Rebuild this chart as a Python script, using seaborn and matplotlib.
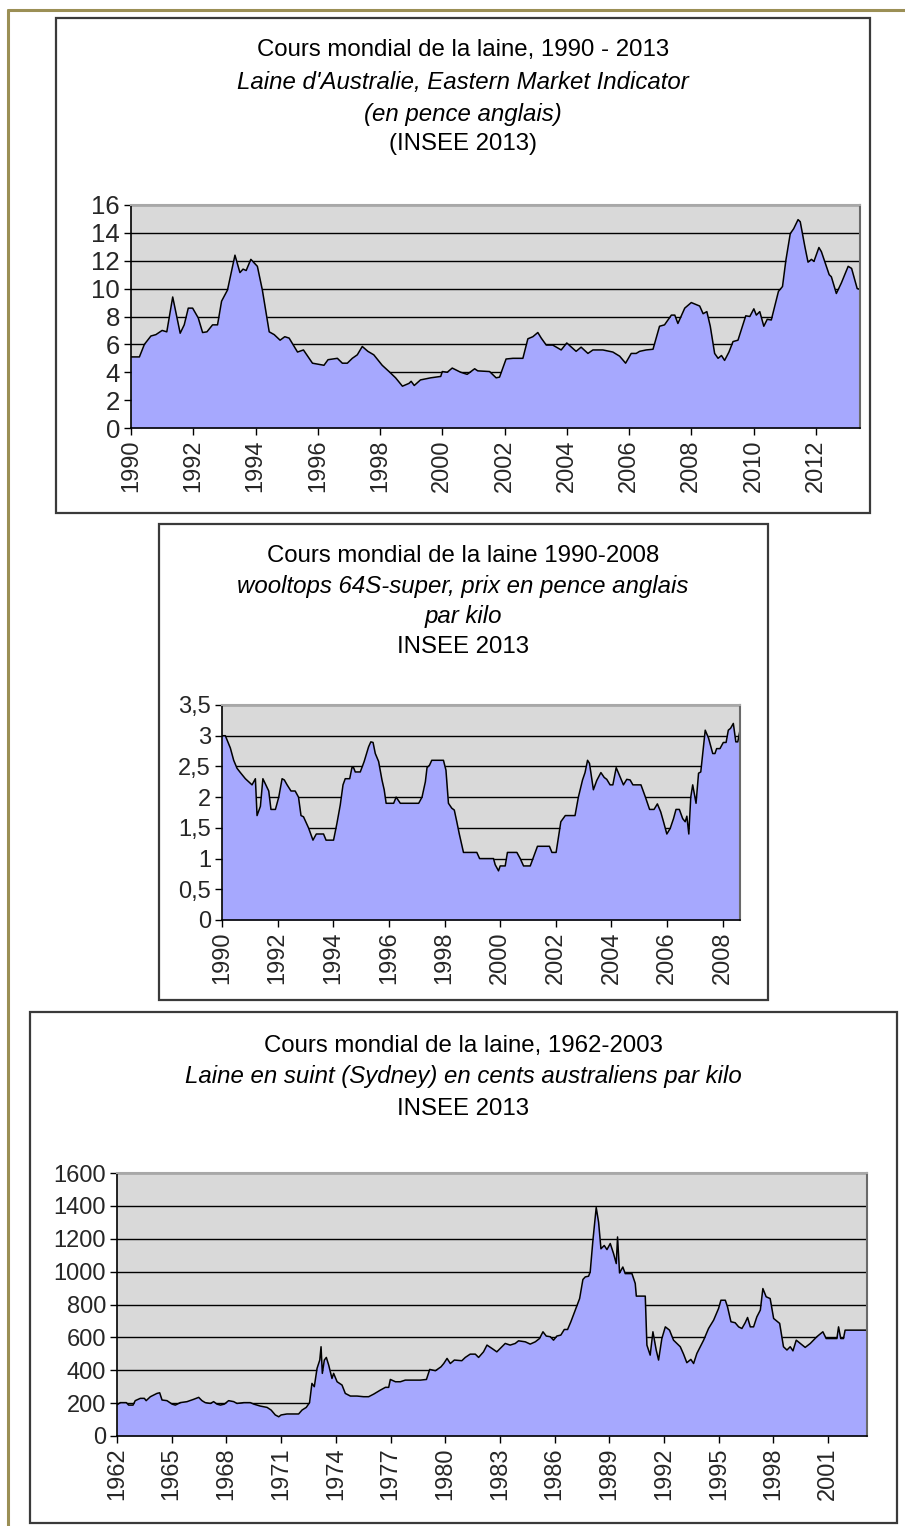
import numpy as np
import pandas as pd
import matplotlib
matplotlib.use("Agg")
import matplotlib.pyplot as plt
from matplotlib.patches import Rectangle
from matplotlib.lines import Line2D
import seaborn as sns

# === data ===

# chart 1: Eastern Market Indicator, pence
emi_years = [1990.0, 1990.27, 1990.43, 1990.64, 1990.8, 1991.0, 1991.15, 1991.34, 1991.58, 1991.71,
             1991.84, 1991.98, 1992.16, 1992.3, 1992.44, 1992.62, 1992.78, 1992.91, 1993.1, 1993.34,
             1993.5, 1993.6, 1993.7, 1993.85, 1994.06, 1994.22, 1994.44, 1994.6, 1994.79, 1994.94,
             1995.08, 1995.35, 1995.54, 1995.83, 1996.2, 1996.33, 1996.63, 1996.79, 1996.95, 1997.11,
             1997.27, 1997.43, 1997.61, 1997.8, 1998.07, 1998.29, 1998.5, 1998.72, 1998.93, 1999.0,
             1999.1, 1999.3, 1999.63, 1999.8, 1999.95, 2000.0, 2000.16, 2000.32, 2000.59, 2000.8,
             2001.04, 2001.14, 2001.52, 2001.73, 2001.84, 2002.05, 2002.27, 2002.59, 2002.75, 2002.91,
             2003.07, 2003.18, 2003.34, 2003.55, 2003.82, 2004.0, 2004.3, 2004.46, 2004.68, 2004.84,
             2005.16, 2005.48, 2005.7, 2005.89, 2006.07, 2006.23, 2006.34, 2006.55, 2006.77, 2006.86,
             2006.98, 2007.14, 2007.36, 2007.47, 2007.57, 2007.79, 2008.0, 2008.27, 2008.38, 2008.5,
             2008.61, 2008.75, 2008.86, 2008.97, 2009.07, 2009.21, 2009.34, 2009.5, 2009.75, 2009.88,
             2010.01, 2010.09, 2010.2, 2010.33, 2010.44, 2010.57, 2010.8, 2010.93, 2011.04, 2011.18,
             2011.29, 2011.43, 2011.5, 2011.65, 2011.75, 2011.86, 2011.94, 2012.1, 2012.18, 2012.43,
             2012.5, 2012.66, 2012.82, 2013.04, 2013.15, 2013.33, 2013.42]
emi_values = [5.1, 5.1, 6.0, 6.6, 6.7, 7.0, 6.9, 9.4, 6.8, 7.4,
              8.6, 8.6, 7.9, 6.85, 6.9, 7.4, 7.4, 9.1, 9.9, 12.4,
              11.15, 11.4, 11.3, 12.1, 11.6, 9.9, 6.9, 6.7, 6.3, 6.55,
              6.45, 5.45, 5.6, 4.65, 4.5, 4.9, 5.0, 4.65, 4.65, 5.0,
              5.25, 5.85, 5.5, 5.25, 4.5, 4.05, 3.6, 3.0, 3.2, 3.35,
              3.05, 3.45, 3.6, 3.65, 3.7, 4.05, 4.0, 4.3, 4.0, 3.85,
              4.25, 4.1, 4.05, 3.6, 3.65, 4.95, 5.0, 5.0, 6.4, 6.55,
              6.85, 6.45, 5.95, 5.95, 5.6, 6.1, 5.5, 5.8, 5.35, 5.6,
              5.6, 5.45, 5.15, 4.65, 5.35, 5.35, 5.5, 5.6, 5.65, 6.35,
              7.3, 7.4, 8.1, 8.1, 7.5, 8.6, 9.0, 8.75, 8.2, 8.35,
              7.3, 5.35, 5.0, 5.2, 4.85, 5.45, 6.2, 6.3, 8.05, 8.0,
              8.55, 8.1, 8.35, 7.3, 7.8, 7.75, 9.8, 10.15, 12.05, 13.95,
              14.3, 14.95, 14.8, 13.0, 11.9, 12.1, 11.95, 12.95, 12.65, 11.0,
              10.85, 9.65, 10.4, 11.6, 11.45, 10.0, 9.95]

# chart 2: wooltops 64S-super, pence per kilo
tops_years = [1990.0, 1990.12, 1990.3, 1990.42, 1990.54, 1990.66, 1990.84, 1990.96, 1991.08, 1991.2,
              1991.26, 1991.38, 1991.47, 1991.68, 1991.76, 1991.92, 1992.04, 1992.16, 1992.24, 1992.34,
              1992.48, 1992.63, 1992.75, 1992.84, 1992.93, 1993.11, 1993.27, 1993.39, 1993.65, 1993.74,
              1994.01, 1994.13, 1994.25, 1994.35, 1994.43, 1994.59, 1994.67, 1994.73, 1994.79, 1994.97,
              1995.11, 1995.27, 1995.35, 1995.43, 1995.51, 1995.63, 1995.75, 1995.83, 1995.9, 1996.17,
              1996.26, 1996.41, 1997.07, 1997.19, 1997.31, 1997.37, 1997.46, 1997.54, 1997.96, 1998.05,
              1998.14, 1998.26, 1998.35, 1998.44, 1998.53, 1998.68, 1999.16, 1999.26, 1999.76, 1999.82,
              1999.94, 2000.0, 2000.18, 2000.26, 2000.6, 2000.72, 2000.84, 2001.08, 2001.34, 2001.77,
              2001.86, 2002.01, 2002.18, 2002.34, 2002.69, 2002.81, 2002.96, 2003.05, 2003.14, 2003.21,
              2003.35, 2003.47, 2003.62, 2003.74, 2003.83, 2003.95, 2004.05, 2004.17, 2004.31, 2004.43,
              2004.55, 2004.67, 2004.77, 2005.06, 2005.22, 2005.37, 2005.53, 2005.65, 2005.77, 2005.87,
              2005.99, 2006.11, 2006.23, 2006.32, 2006.44, 2006.56, 2006.65, 2006.71, 2006.78, 2006.85,
              2006.92, 2007.04, 2007.13, 2007.21, 2007.37, 2007.49, 2007.64, 2007.72, 2007.78, 2007.9,
              2008.02, 2008.12, 2008.2, 2008.28, 2008.38, 2008.47, 2008.54, 2008.62]
tops_values = [3.0, 3.0, 2.8, 2.6, 2.47, 2.4, 2.3, 2.25, 2.2, 2.3,
               1.7, 1.85, 2.3, 2.1, 1.8, 1.8, 2.0, 2.3, 2.28, 2.2,
               2.1, 2.1, 2.0, 1.7, 1.68, 1.5, 1.3, 1.4, 1.4, 1.3,
               1.3, 1.57, 1.87, 2.2, 2.3, 2.3, 2.48, 2.48, 2.41, 2.41,
               2.58, 2.82, 2.9, 2.89, 2.71, 2.58, 2.28, 2.12, 1.9, 1.9,
               2.0, 1.9, 1.9, 2.0, 2.25, 2.48, 2.52, 2.6, 2.6, 2.44,
               1.9, 1.82, 1.79, 1.6, 1.4, 1.1, 1.1, 1.0, 1.0, 0.9,
               0.8, 0.88, 0.88, 1.1, 1.1, 1.0, 0.88, 0.88, 1.2, 1.2,
               1.1, 1.1, 1.6, 1.7, 1.7, 2.0, 2.28, 2.4, 2.6, 2.55,
               2.12, 2.27, 2.4, 2.32, 2.29, 2.2, 2.2, 2.48, 2.33, 2.2,
               2.29, 2.28, 2.2, 2.2, 2.0, 1.8, 1.8, 1.89, 1.76, 1.6,
               1.4, 1.49, 1.65, 1.8, 1.8, 1.65, 1.6, 1.69, 1.4, 2.0,
               2.2, 1.9, 2.39, 2.41, 3.09, 2.96, 2.71, 2.71, 2.79, 2.79,
               2.89, 2.89, 3.09, 3.12, 3.2, 2.9, 2.9, 3.09]

# chart 3: greasy wool (Sydney), Australian cents per kilo
syd_years = [1962.0, 1962.18, 1962.51, 1962.64, 1962.88, 1963.0, 1963.28, 1963.5, 1963.6, 1963.83,
             1964.01, 1964.19, 1964.34, 1964.47, 1964.74, 1965.02, 1965.2, 1965.47, 1965.84, 1966.2,
             1966.48, 1966.66, 1966.84, 1967.12, 1967.3, 1967.48, 1967.67, 1967.89, 1968.12, 1968.4,
             1968.58, 1968.95, 1969.31, 1969.5, 1969.86, 1970.23, 1970.45, 1970.68, 1970.87, 1971.0,
             1971.32, 1971.96, 1972.15, 1972.38, 1972.56, 1972.69, 1972.82, 1972.97, 1973.12, 1973.19,
             1973.26, 1973.37, 1973.48, 1973.61, 1973.79, 1973.88, 1974.07, 1974.34, 1974.52, 1974.8,
             1975.16, 1975.53, 1975.8, 1976.08, 1976.44, 1976.72, 1976.9, 1976.99, 1977.27, 1977.54,
             1977.81, 1978.18, 1978.64, 1978.97, 1979.15, 1979.46, 1979.77, 1979.92, 1980.1, 1980.28,
             1980.5, 1980.91, 1981.1, 1981.37, 1981.65, 1981.83, 1982.1, 1982.29, 1982.56, 1982.83,
             1983.11, 1983.29, 1983.56, 1983.84, 1984.02, 1984.39, 1984.66, 1984.94, 1985.17, 1985.36,
             1985.54, 1985.76, 1985.94, 1986.12, 1986.34, 1986.53, 1986.71, 1986.89, 1987.13, 1987.37,
             1987.55, 1987.68, 1987.86, 1987.95, 1988.1, 1988.28, 1988.41, 1988.54, 1988.72, 1988.87,
             1989.05, 1989.23, 1989.38, 1989.45, 1989.56, 1989.74, 1989.87, 1990.24, 1990.42, 1990.48,
             1990.97, 1991.06, 1991.24, 1991.39, 1991.57, 1991.7, 1991.88, 1992.07, 1992.3, 1992.52,
             1992.89, 1993.07, 1993.25, 1993.47, 1993.62, 1993.8, 1994.17, 1994.44, 1994.72, 1994.99,
             1995.12, 1995.36, 1995.48, 1995.67, 1995.9, 1996.09, 1996.27, 1996.45, 1996.58, 1996.73,
             1996.91, 1997.09, 1997.28, 1997.42, 1997.6, 1997.82, 1998.01, 1998.34, 1998.55, 1998.74,
             1998.92, 1999.07, 1999.25, 1999.47, 1999.74, 2000.02, 2000.38, 2000.71, 2000.89, 2001.48,
             2001.57, 2001.69, 2001.84, 2001.93, 2003.13]
syd_values = [190, 203, 203, 188, 188, 215, 229, 229, 215, 239,
              249, 259, 263, 219, 215, 194, 188, 203, 209, 223,
              235, 215, 203, 198, 209, 194, 188, 194, 215, 209,
              198, 203, 203, 194, 182, 174, 158, 128, 117, 128,
              134, 134, 158, 174, 203, 320, 300, 411, 462, 543,
              381, 462, 478, 431, 350, 381, 330, 310, 259, 243,
              243, 239, 239, 255, 279, 296, 296, 344, 330, 330,
              340, 340, 340, 344, 405, 397, 421, 441, 472, 441,
              462, 458, 478, 498, 498, 478, 512, 553, 533, 512,
              543, 563, 553, 563, 579, 573, 559, 573, 593, 634,
              608, 604, 583, 608, 614, 648, 648, 695, 766, 836,
              952, 968, 972, 998, 1191, 1390, 1301, 1139, 1159, 1134,
              1171, 1110, 1049, 1211, 992, 1028, 988, 988, 928, 851,
              851, 553, 492, 634, 523, 462, 593, 664, 644, 583,
              543, 498, 446, 466, 441, 502, 583, 654, 705, 776,
              826, 826, 786, 695, 689, 664, 654, 689, 721, 664,
              664, 725, 766, 897, 847, 836, 715, 685, 543, 523,
              543, 518, 583, 563, 539, 563, 604, 634, 593, 593,
              664, 593, 593, 644, 644]

titles_1 = ["Cours mondial de la laine, 1990 - 2013",
            "Laine d'Australie, Eastern Market Indicator",
            "(en pence anglais)",
            "(INSEE 2013)"]
titles_2 = ["Cours mondial de la laine 1990-2008",
            "wooltops 64S-super, prix en pence anglais",
            "par kilo",
            "INSEE 2013"]
titles_3 = ["Cours mondial de la laine, 1962-2003",
            "Laine en suint (Sydney) en cents australiens par kilo",
            "INSEE 2013"]

# === figure setup ===
W, H = 905, 1526
sns.set_theme(style="white")
plt.rcParams["font.family"] = ["Liberation Sans", "DejaVu Sans"]

FILL = "#a6a8fe"
BG = "#d9d9d9"

fig = plt.figure(figsize=(W / 100, H / 100), dpi=100)
fig.patch.set_facecolor("white")


def px_rect(l, t, r, b):
    return [l / W, 1 - b / H, (r - l) / W, (b - t) / H]


def box(l, t, r, b):
    fig.patches.append(Rectangle((l / W, 1 - b / H), (r - l) / W, (b - t) / H,
                                 transform=fig.transFigure, fill=False,
                                 edgecolor="#3a3a3a", lw=1.6))


def titles(lines, ys, styles):
    for txt, y, st in zip(lines, ys, styles):
        fig.text(463 / W, 1 - y / H, txt, ha="center", va="center",
                 fontsize=17.3, style=st, color="black")


def area_chart(rect, years, values, xlim, ylim, xticks, yticks, ylabels, yfs=17):
    ax = fig.add_axes(px_rect(*rect))
    ax.set_facecolor(BG)
    df = pd.DataFrame({"year": years, "value": values})
    ax.fill_between(df["year"], df["value"], 0, color=FILL, lw=0, zorder=2)
    sns.lineplot(data=df, x="year", y="value", ax=ax, color="black",
                 lw=1.1, estimator=None, sort=False, zorder=3)
    ax.set_xlim(*xlim)
    ax.set_ylim(*ylim)
    ax.set_xticks(xticks)
    ax.set_xticklabels([str(t) for t in xticks], rotation=90, fontsize=17)
    ax.set_yticks(yticks)
    ax.set_yticklabels(ylabels, fontsize=yfs)
    ax.set_xlabel("")
    ax.set_ylabel("")
    ax.set_axisbelow(True)
    ax.yaxis.grid(True, color="black", lw=1.0)
    ax.xaxis.grid(False)
    ax.tick_params(axis="both", direction="out", length=5, width=1,
                   color="black", pad=3, left=True, bottom=True)
    for side in ["left", "bottom"]:
        ax.spines[side].set_color("black")
        ax.spines[side].set_linewidth(1.2)
    ax.spines["top"].set_color("#a8a8a8")
    ax.spines["top"].set_linewidth(1.5)
    ax.spines["right"].set_color("#6a6a6a")
    ax.spines["right"].set_linewidth(1.5)
    for s in ax.spines.values():
        s.set_zorder(4)
    return ax


# olive page frame
fig.add_artist(Line2D([8 / W, 8 / W], [0, 1 - 10 / H], transform=fig.transFigure,
                      color="#9b8f55", lw=2.2))
fig.add_artist(Line2D([8 / W, 1], [1 - 10 / H, 1 - 10 / H], transform=fig.transFigure,
                      color="#9b8f55", lw=2.2))

# chart 1
box(56, 18, 870, 513)
titles(titles_1, [50, 83, 114, 144], ["normal", "italic", "italic", "normal"])
area_chart((131, 205, 860, 428), emi_years, emi_values, (1990, 2013.42), (0, 16),
           list(range(1990, 2013, 2)), list(range(0, 17, 2)),
           [str(v) for v in range(0, 17, 2)], yfs=18.5)

# chart 2
box(159, 524, 768, 1000)
titles(titles_2, [556, 586, 617, 647], ["normal", "italic", "italic", "normal"])
y2 = [0, 0.5, 1, 1.5, 2, 2.5, 3, 3.5]
area_chart((222, 705, 740, 920), tops_years, tops_values, (1990, 2008.62), (0, 3.5),
           list(range(1990, 2009, 2)), y2,
           [("%g" % v).replace(".", ",") for v in y2])

# chart 3
box(30, 1012, 897, 1523)
titles(titles_3, [1046, 1077, 1109], ["normal", "italic", "normal"])
area_chart((117, 1173, 867, 1436), syd_years, syd_values, (1962, 2003.13), (0, 1600),
           list(range(1962, 2002, 3)), list(range(0, 1601, 200)),
           [str(v) for v in range(0, 1601, 200)])

fig.savefig("out.png", dpi=100)
